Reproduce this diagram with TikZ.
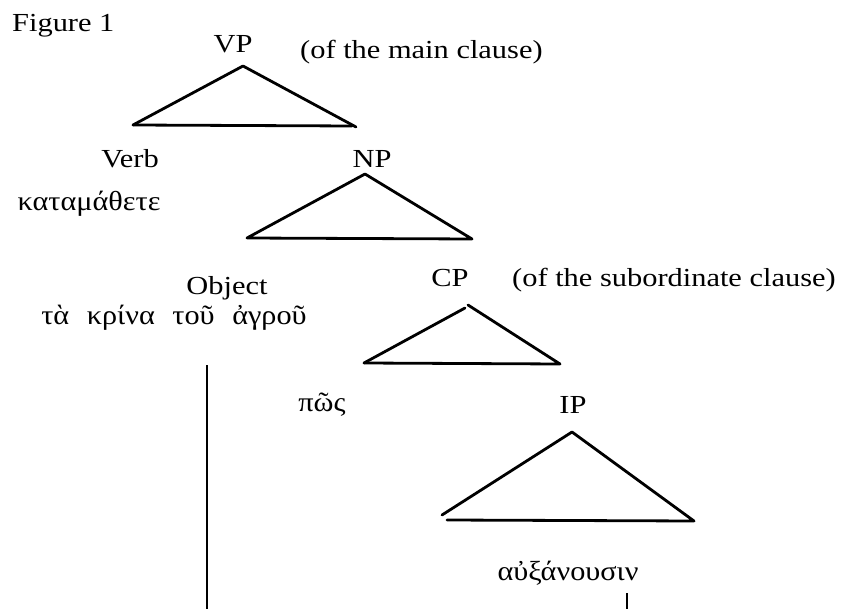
\documentclass[tikz,border=0pt]{standalone}
\usepackage{fontspec}
\setmainfont[FakeStretch=1.17]{Liberation Serif}
\newfontfamily\grk[FakeStretch=1.1]{Liberation Serif}
\begin{document}
\begin{tikzpicture}[x=1pt,y=-1pt,
  lab/.style={inner sep=0pt, anchor=base, font=\fontsize{26}{30}\selectfont},
  labw/.style={lab, anchor=base west},
  gk/.style={inner sep=0pt, anchor=base, font=\grk\fontsize{27.5}{30}\selectfont},
  edge/.style={line width=2.8pt, line cap=round, line join=round}]
\useasboundingbox (0,0) rectangle (864,609);

% labels
\node[labw] (fig) at (12,32) {Figure 1};
\node[lab] (vp) at (233,53) {VP};
\node[labw] (vpnote) at (300,59) {(of the main clause)};
\node[lab] (verb) at (130,168) {Verb};
\node[gk] (verbg) at (89,211) {καταμάθετε};
\node[lab] (np) at (372,168) {NP};
\node[lab] (obj) at (227,295) {Object};
\node[gk] (objg) at (174,325) {τὰ\hspace{10pt} κρίνα\hspace{10pt} τοῦ\hspace{10pt} ἀγροῦ};
\node[lab] (cp) at (450,287) {CP};
\node[labw] (cpnote) at (512,287) {(of the subordinate clause)};
\node[gk] (pos) at (322,411) {πῶς};
\node[lab] (ip) at (573,413) {IP};
\node[gk] (verb2) at (568,580) {αὐξάνουσιν};

% triangle vertices
\coordinate (vpA) at (243,66);
\coordinate (vpL) at (133,125);
\coordinate (vpR) at (356,127);
\coordinate (npA) at (365,174);
\coordinate (npL) at (247,238);
\coordinate (npR) at (472,239);
\coordinate (cpA1) at (465,308);
\coordinate (cpA2) at (468,305);
\coordinate (cpL) at (364,363);
\coordinate (cpR) at (560,364);
\coordinate (ipA) at (572,432);
\coordinate (ipL) at (442,515);
\coordinate (ipL2) at (447,520);
\coordinate (ipR) at (694,521);
\coordinate (objT) at (207,365);
\coordinate (objB) at (207,609);
\coordinate (vT) at (627,593);
\coordinate (vB) at (627,609);

\draw[edge] (vpL) -- (vpA) -- (vpR);
\draw[edge] (vpL) -- ++(219,1);
\draw[edge] (npL) -- (npA) -- (npR) -- (npL);
\draw[edge] (cpA1) -- (cpL);
\draw[edge] (cpA2) -- (cpR) -- (cpL);
\draw[edge] (ipL) -- (ipA) -- (ipR) -- (ipL2);
\draw[edge, line cap=butt] (objT) -- (objB);
\draw[edge, line cap=butt] (vT) -- (vB);
\end{tikzpicture}
\end{document}
